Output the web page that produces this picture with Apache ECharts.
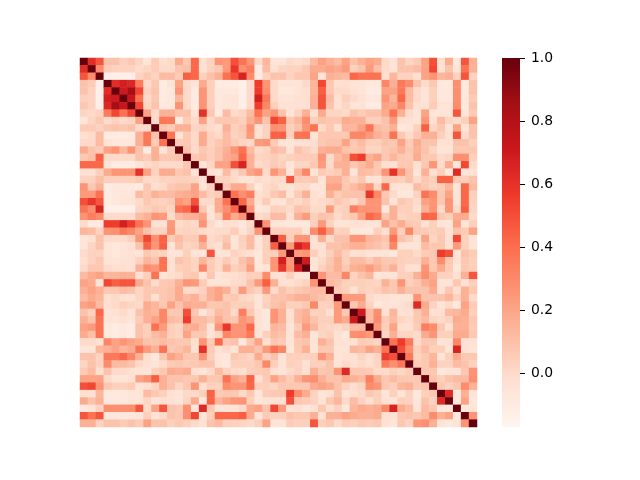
<!DOCTYPE html>
<html><head><meta charset="utf-8">
<script src="https://cdn.jsdelivr.net/npm/echarts@6/dist/echarts.min.js"></script>
<style>html,body{margin:0;padding:0;background:#fff}#c{width:640px;height:480px}</style>
</head><body><div id="c"></div>
<script>
const scaleMin = -0.171, scaleMax = 1.0;
const tickValues = [0, 0.2, 0.4, 0.6, 0.8, 1.0];
const reds = ['#fff5f0','#fee0d2','#fcbba1','#fc9272','#fb6a4a','#ef3b2c','#cb181d','#a50f15','#67000d'];
const r00=[1,.62,.48,.09,.09,.04,.07,.02,-.06,.06,-.02,0,.18,.07,.42,-.02,.03, .26,.24,.5,.38,.26,0,.14,-.06,-.06,0,-.02,0,.12,.21,.16,.12,.21, .09,.16,.21,.18,0,-.05,.09,.02,.06,.21,.5,-.02,.18,-.08,.48,.16];
const r01=[1,.29,.06,.03,.03,.03,0,.02,.06,0,0,.09,.1,.42,-.03,.03, .07,.24,.58,.28,.34,-.1,.12,-.03,.02,.03,.03,.07,.18,.18,.21,.18,.24, .04,.09,.24,.1,0,-.05,.09,.09,.12,.21,.53,-.03,.09,-.05,.38,.16];
const r02=[1,-.13,-.13,-.13,-.13,.03,.07,.03,.12,.12,.06,.45,.42,.04,.1, .16,.39,.48,.66,.29,-.1,.03,.09,.09,.03,.07,.07,.21,-.05,.16,.14,.12, .42,.38,.38,.38,-.02,.14,.03,.03,-.02,.21,.26,.14,.16,.03,.48,.03];
const r03=[1,.62,.68,.64,.35,0,.07,-.1,-.05,.21,0,-.05,.18,.04, -.1,-.1,-.1,-.13,0,.56,.26,0,-.05,-.05,-.05,0,.14,.53,.07,-.02,-.02, -.05,-.05,-.08,-.08,.31,.16,.36,.29,.09,0,.07,-.08,-.08,.28,-.08,.09];
const r04=[1,.7,.85,.53,.03,.09,-.1,-.08,.26,0,-.1,.26,.04, -.08,-.08,-.08,-.13,0,.56,.28,0,-.07,-.07,-.05,-.02,.14,.45,.07,0,0, -.03,-.05,-.1,-.1,.21,.21,.36,.12,0,-.05,.04,-.08,-.08,.28,-.08,.09];
const r05=[1,.72,.38,0,.07,-.1,-.08,.14,0,-.1,.26,.04, -.08,-.06,-.05,-.13,0,.68,.36,0,-.05,-.05,-.03,-.02,.16,.48,.12,-.03,.04, 0,-.03,-.08,-.08,.26,.14,.42,.12,0,-.05,.04,-.08,-.08,.28,-.08,.06];
const r06=[1,.53,.02,.09,-.09,-.07,.26,0,-.1,.26,.04, -.08,-.06,-.05,-.13,0,.56,.31,.04,-.03,-.03,-.03,-.03,.16,.48,.09,-.03,.02, -.05,-.05,-.1,-.1,.21,.18,.31,.09,-.02,-.03,.06,-.05,-.05,.29,-.08,.09];
const r07=[1,.21,0,.16,.16,.09,.09,-.05,.6,.07, -.1,.12,0,.02,.12,.38,.21,.26,.09,-.05,.03,.16,-.03,.18,.02,.02,0, .09,.06,.09,.09,.18,.38,.16,0,-.05,.21,-.05,-.05,-.05,.48,-.06,.06];
const r08=[1,0,.36,.36,-.1,.06,0,.21,0, .07,.07,.07,.04,.16,.26,.09,.53,.44,.07,.14,.29,.04,.09,.07,.07,.18, .16,.16,.04,.04,.09,.24,-.02,-.03,-.05,.26,-.02,.12,.02,0,.04,.21];
const r09=[1,.09,.06,.16,.16,.02,.03,0, -.02,.16,.04,.07,.26,-.03,.03,.28,.26,.04,.09,.26,.38,0,.07,-.02,.14, .14,.21,.38,.12,.09,.16,-.08,-.05,.04,.45,.02,.07,-.05,.21,-.05,.09];
const r10=[1,.38,-.05,.07,0,.18,.03, 0,.12,.03,.06,.24,-.03,.03,.44,.45,.03,.38,.38,-.05,.07,.07,.07,.07, .31,.31,.24,.16,.12,.38,.07,0,.07,.16,.16,.04,-.02,.48,0,.09];
const r11=[1,.06,.07,0,.18,.03, .07,.12,.06,.02,0,.24,.26,.06,-.05,-.05,-.03,-.03,-.02,.07,.09,.09,.21, .07,.12,.04,.04,.09,.07,.21,.06,.18,.09,.09,-.03,-.03,.09,.09,.04];
const r12=[1,.09,0,.07,.04, .09,.16,.26,.38,.12,0,.02,.12,.09,-.05,.09,.04,0,.16,.18,.18,.09, .07,.09,.02,.02,.07,.09,.16,.07,.16,.09,.02,-.05,-.05,.07,.07,.07];
const r13=[1,.07,.09,.04, .09,.18,.21,.42,.16,.02,.03,.06,.02,.04,.06,.06,.06,.26,0,.12,.18, .5,.56,.16,.21,.07,.14,.07,.06,.18,.07,.07,0,.02,.28,.28,.04];
const r14=[1,-.05,.02, .21,.21,.5,.66,.16,0,.02,.06,.04,-.05,.02,.02,.07,.24,0,.16,.16, .07,.12,.18,.07,-.02,-.03,.07,.07,-.02,.07,.26,0,.18,-.06,.53,0];
const r15=[1,-.03, -.05,.12,0,.07,.21,.26,0,.26,.16,-.08,.14,.31,-.05,.06,.03,.06,.16, -.06,.12,.1,.07,.26,.6,.26,.09,-.06,.16,-.02,.04,-.08,.63,-.05,-.03];
const r16=[1, .03,.03,0,-.05,-.05,0,-.02,0,0,.48,.06,.06,.07,-.05,.16,.16,.07, .02,.07,-.05,-.05,.06,.06,.04,.09,0,.07,.04,.44,.44,.07,.04,.09];
const r17=[1,.06,.18,.18,.04,-.08,0,.02,-.03,-.05,0,0,-.06,-.05,.21,.21,.07, .12,.18,.26,.02,.42,-.03,-.05,-.05,.12,.07,.03,.06,.14,-.06,.42,.12];
const r18=[1,.38,.28,.34,-.02,0,.07,.12,-.05,.06,.16,-.02,-.05,.16,.06,.09, .09,.09,.58,.31,.07,0,-.07,-.08,.03,.38,.29,.07,.21,-.05,.42,.04];
const r19=[1,.42,.18,-.03,.06,-.05,-.05,.03,0,.04,-.02,0,.02,.07,.04, 0,.07,.26,.26,.09,-.05,.07,.04,0,.21,.26,.07,.26,-.05,.42,.03];
const r20=[1,.26,-.08,-.05,.04,.03,0,.09,.07,0,0,.24,.02,.04, .34,.26,.26,.26,-.08,.16,.04,.04,-.02,.16,.26,0,.26,0,.45,.02];
const r21=[1,0,.02,.12,.12,-.03,.16,.23,.04,.09,.07,0,.04, .07,.21,.42,.36,.07,.16,.02,.04,.04,.44,.42,.07,.04,.18,.18,0];
const r22=[1,.26,-.06,-.06,-.07,-.07,-.07,.04,.24,.03,-.05,-.05, -.03,-.03,-.05,-.05,.21,.09,.18,.07,.06,-.03,.04,-.06,-.06,.21,-.05,.04];
const r23=[1,.04,.04,.04,.04,-.05,.29,.45,.24,.03,.04, -.07,-.07,-.08,.04,-.02,.24,.04,.31,.07,.06,.04,.06,-.04,.09,.06,.21];
const r24=[1,.45,.04,.26,.26,-.03,.16,0,.09,.09, .26,.26,.14,.12,.07,.38,.09,.04,-.03,.21,.02,.07,-.03,.53,.03,-.05];
const r25=[1,.24,.68,.58,-.03,-.03,.09,.09,.12, .16,.16,.12,.09,.06,.31,-.05,-.05,-.05,.12,.07,.07,-.03,.24,.04,-.05];
const r26=[1,.24,.26,.04,-.03,.04,.12,.04, -.03,-.02,-.05,-.05,-.05,-.07,.04,.04,0,.06,.07,.56,.5,-.05,.09,.06];
const r27=[1,.7,-.05,0,.07,.16,.04, .12,.12,.06,.12,.07,.07,.04,.03,.03,.16,.07,.29,.07,-.03,.07,.04];
const r28=[1,-.05,.03,.09,.16,.07, .16,.18,.24,.16,.09,.16,.03,-.03,-.03,.26,.07,.18,.06,-.07,.07,.04];
const r29=[1,.26,.12,.12,.31, .03,.09,.14,-.06,-.05,-.05,.04,.04,.16,.28,.18,.03,.03,-.03,.16,.48];
const r30=[1,.12,.09,.03, .04,.04,.03,.02,.16,.07,.26,.04,.07,.16,.21,-.05,-.05,.07,-.03,.04];
const r31=[1,.06,.04, -.03,.04,.02,.04,.09,.07,.16,.09,.09,.09,.18,-.03,.07,-.02,.16,.07];
const r32=[1,.24, .24,.24,0,-.03,-.03,-.05,-.05,-.05,.26,.09,.09,.09,.14,.03,.16,0];
const r33=[1, .07,.18,.03,-.07,-.04,-.05,-.03,0,.63,.18,.03,-.05,0,-.08,.21,.06];
const r34=[1,.7,.12,.28,-.03,.14,-.03,-.02,.07,.16,-.02,-.02,.12,.14,.18,.04];
const r35=[1,.12,.29,.06,.12,.02,0,.07,.12,.02,0,.03,.18,.16,.07];
const r36=[1,.24,.04,.21,-.02,-.02,.06,.34,.29,.07,-.03,.16,.16,.06];
const r37=[1,.02,.16,.02,.02,0,.18,.26,.04,.04,.18,.18,.07];
const r38=[1,.38,.56,.36,0,.07,.07,-.05,-.03,.31,-.03,-.03];
const r39=[1,.5,.28,.04,.12,.04,.04,-.05,.66,-.03,-.06];
const r40=[1,.36,.02,.07,.14,-.05,.04,.18,.07,.07];
const r41=[1,.06,.07,.16,.03,.03,.12,.09,.03];
const r42=[1,.07,.07,-.07,-.05,-.05,.07,.26];
const r43=[1,.09,.04,.09,.12,.12,.28];
const r44=[1,.07,.03,.07,.29,.16];
const r45=[1,.63,-.08,.16,-.05];
const r46=[1,-.08,.21,-.07];
const r47=[1,-.07,-.05];
const r48=[1,.26];
const r49=[1];
const upper=[r00,r01,r02,r03,r04,r05,r06,r07,r08,r09,r10,r11,r12,r13,r14,r15,r16,r17,r18,r19,r20,r21,r22,r23,r24,r25,r26,r27,r28,r29,r30,r31,r32,r33,r34,r35,r36,r37,r38,r39,r40,r41,r42,r43,r44,r45,r46,r47,r48,r49];

const cats = upper.map((_, i) => String(i));
const cells = [];
upper.forEach((row, i) => {
  if (row.length !== 50 - i) console.error('bad row', i, row.length);
  row.forEach((v, k) => {
    const j = i + k;
    cells.push([j, i, v]);
    if (j !== i) cells.push([i, j, v]);
  });
});

const chart = echarts.init(document.getElementById('c'), null, {renderer:'canvas'});
chart.setOption({
  animation:false,
  backgroundColor:'#fff',
  textStyle:{fontFamily:'DejaVu Sans'},
  grid:[
    {left:80, top:58, width:397, height:369},
    {left:502, top:58, width:18, height:369}
  ],
  xAxis:[
    {type:'category', data:cats, show:false, gridIndex:0},
    {type:'category', data:['bar'], show:false, gridIndex:1}
  ],
  yAxis:[
    {type:'category', data:cats, inverse:true, show:false, gridIndex:0},
    {type:'value', gridIndex:1, min:scaleMin, max:scaleMax, position:'right',
     axisLine:{show:false}, splitLine:{show:false},
     axisTick:{show:true, length:5, lineStyle:{color:'#000', width:1}, customValues:tickValues},
     axisLabel:{show:true, color:'#000', fontSize:13.9, margin:11, padding:[2,0,0,0], fontFamily:'DejaVu Sans',
       customValues:tickValues, formatter:v=>Number(v).toFixed(1)}}
  ],
  visualMap:{show:false, seriesIndex:0, dimension:2, min:scaleMin, max:scaleMax, inRange:{color:reds}},
  series:[
    {type:'heatmap', data:cells, xAxisIndex:0, yAxisIndex:0, progressive:0,
     itemStyle:{borderWidth:0}, emphasis:{disabled:true}},
    {type:'custom', xAxisIndex:1, yAxisIndex:1, data:[[0, scaleMin, scaleMax]], silent:true,
     renderItem:(params, api)=>{
       const lo = api.coord([0, api.value(1)]);
       const hi = api.coord([0, api.value(2)]);
       const w = api.size([1, 0])[0];
       return {type:'rect',
         shape:{x:lo[0]-w/2, y:hi[1], width:w, height:lo[1]-hi[1]},
         style:{fill:new echarts.graphic.LinearGradient(0,1,0,0,
           reds.map((c,i)=>({offset:i/(reds.length-1), color:c})))}};
     }}
  ]
});
</script></body></html>
